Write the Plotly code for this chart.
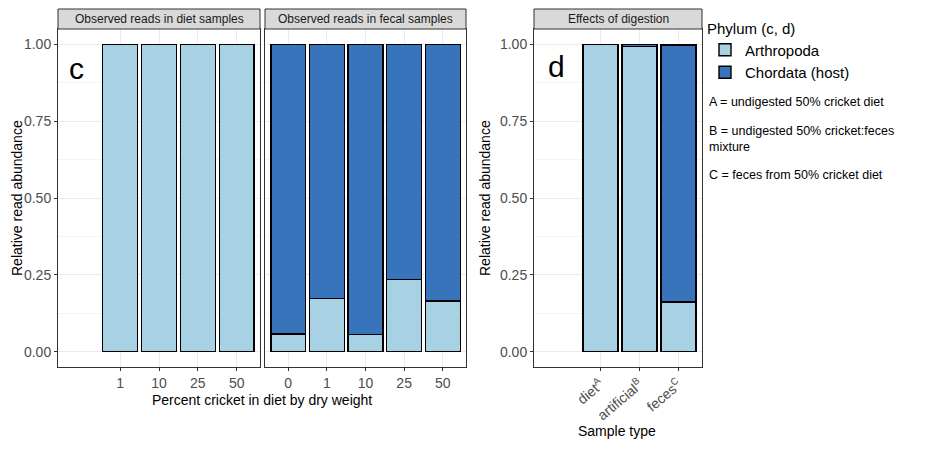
import plotly.graph_objects as go

# ---- data ----
diet_pct = ["1", "10", "25", "50"]
diet_arthropoda = [1.0, 1.0, 1.0, 1.0]
diet_chordata = [0.0, 0.0, 0.0, 0.0]

fecal_pct = ["0", "1", "10", "25", "50"]
fecal_arthropoda = [0.058, 0.172, 0.055, 0.234, 0.165]
fecal_chordata = [0.942, 0.828, 0.945, 0.766, 0.835]

digest_types = ["diet", "artificial", "feces"]
digest_labels = ["diet<sup>A</sup>", "artificial<sup>B</sup>", "feces<sup>C</sup>"]
digest_arthropoda = [1.0, 0.994, 0.162]
digest_chordata = [0.0, 0.006, 0.836]

strip_titles = ["Observed reads in diet samples", "Observed reads in fecal samples",
                "Effects of digestion"]
notes = ["A = undigested 50% cricket diet",
         "B = undigested 50% cricket:feces<br>mixture",
         "C = feces from 50% cricket diet"]

LIGHT = "#A8D1E3"
DARK = "#3874BC"
FONT = "Liberation Sans, Arial, sans-serif"

# the page body has an 8px margin, so the figure is drawn 8px in from the corner
OFF = 8
W, H = 934 - OFF, 459 - OFF


def px_x(p):
    return (p - OFF) / W


def px_y(p):
    return 1 - (p - OFF) / H


fig = go.Figure()

panels = [
    ("x", "y", diet_pct, diet_arthropoda, diet_chordata),
    ("x2", "y2", fecal_pct, fecal_arthropoda, fecal_chordata),
    ("x3", "y3", digest_types, digest_arthropoda, digest_chordata),
]
for i, (xa, ya, cats, arth, chord) in enumerate(panels):
    fig.add_trace(go.Bar(x=cats, y=arth, xaxis=xa, yaxis=ya, name="Arthropoda",
                         marker=dict(color=LIGHT, line=dict(color="black", width=1.4)),
                         width=0.9, legendgroup="a", showlegend=(i == 0)))
    fig.add_trace(go.Bar(x=cats, y=chord, xaxis=xa, yaxis=ya, name="Chordata (host)",
                         marker=dict(color=DARK, line=dict(color="black", width=1.4)),
                         width=0.9, legendgroup="c", showlegend=(i == 0)))

# panel extents in reference pixels (left, right)
x_px = [(58, 260), (265, 466), (534, 702)]
top_px, bot_px = 29, 367
x_ranges = [[-1.6, 3.6], [-0.6, 4.6], [-1.7, 2.6]]

common_x = dict(type="category", showline=True, mirror=True, linecolor="#333333",
                linewidth=1, showgrid=True, gridcolor="#ebebeb", ticks="outside",
                ticklen=3, tickcolor="#333333", zeroline=False,
                tickfont=dict(family=FONT, size=14, color="#4d4d4d"))
common_y = dict(range=[-0.05, 1.05], showline=True, mirror=True, linecolor="#333333",
                linewidth=1, showgrid=True, gridcolor="#ebebeb", zeroline=False,
                tickvals=[0, 0.25, 0.5, 0.75, 1.0], tickformat=".2f",
                minor=dict(tickvals=[0.125, 0.375, 0.625, 0.875], showgrid=True,
                           gridcolor="#f4f4f4", ticks=""),
                tickfont=dict(family=FONT, size=14, color="#4d4d4d"))

layout = {}
for i in range(3):
    k = "" if i == 0 else str(i + 1)
    xd = [px_x(x_px[i][0]), px_x(x_px[i][1])]
    layout["xaxis" + k] = dict(common_x, domain=xd, range=x_ranges[i], anchor="y" + k)
    layout["yaxis" + k] = dict(common_y, domain=[px_y(bot_px), px_y(top_px)],
                               anchor="x" + k,
                               ticks="" if i == 1 else "outside", ticklen=3,
                               tickcolor="#333333", showticklabels=(i != 1))
layout["xaxis3"]["tickvals"] = digest_types
layout["xaxis3"]["ticktext"] = digest_labels
layout["xaxis3"]["tickangle"] = -40


def label(xp, yp, text, size, **kw):
    d = dict(xref="paper", yref="paper", x=px_x(xp), y=px_y(yp), text=text,
             showarrow=False, xanchor="center", yanchor="middle",
             font=dict(family=FONT, size=size, color=kw.pop("color", "black")))
    d.update(kw)
    return d


shapes = []
annotations = []
for i in range(3):
    x0, x1 = px_x(x_px[i][0]), px_x(x_px[i][1])
    shapes.append(dict(type="rect", xref="paper", yref="paper", x0=x0, x1=x1,
                       y0=px_y(top_px), y1=px_y(9), fillcolor="#d9d9d9",
                       line=dict(color="#333333", width=1)))
    annotations.append(label((x_px[i][0] + x_px[i][1]) / 2, 19, strip_titles[i], 12,
                             color="#1a1a1a"))

# panel letters
annotations.append(label(76, 68, "c", 30))
annotations.append(label(556, 66, "d", 30))

# axis titles
annotations.append(label(262, 400, "Percent cricket in diet by dry weight", 14))
annotations.append(label(617, 431, "Sample type", 14))
for xp in (17, 485):
    annotations.append(label(xp, 198, "Relative read abundance", 14, textangle=-90))

# notes under legend
for txt, yp in zip(notes, [102, 139, 175]):
    annotations.append(label(707, yp, txt, 12.5, xanchor="left", align="left"))

fig.update_layout(
    **layout,
    barmode="stack",
    width=W, height=H,
    margin=dict(l=0, r=0, t=0, b=0),
    plot_bgcolor="white", paper_bgcolor="white",
    shapes=shapes, annotations=annotations,
    legend=dict(x=px_x(705), y=px_y(14), xanchor="left", yanchor="top",
                title=dict(text="Phylum (c, d)", font=dict(family=FONT, size=15)),
                font=dict(family=FONT, size=15, color="black"),
                tracegroupgap=0, itemwidth=30, traceorder="normal"),
)

fig.write_html("out.html")
